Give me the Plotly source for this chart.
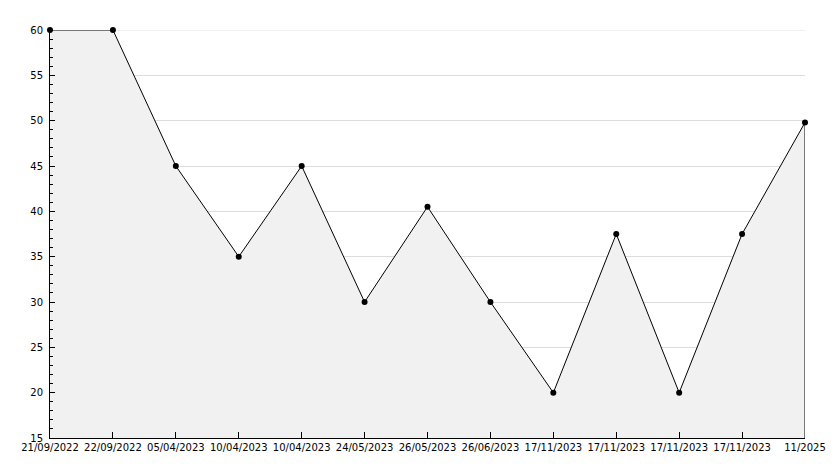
import plotly.graph_objects as go

dates = ["21/09/2022", "22/09/2022", "05/04/2023", "10/04/2023", "10/04/2023",
         "24/05/2023", "26/05/2023", "26/06/2023", "17/11/2023", "17/11/2023",
         "17/11/2023", "17/11/2023", "11/2025"]
values = [60, 60, 45, 35, 45, 30, 40.5, 30, 20, 37.5, 20, 37.5, 49.8]
y_min, y_max = 15, 60
x_idx = list(range(len(dates)))

fig = go.Figure()
fig.add_trace(go.Scatter(
    x=x_idx, y=values, mode="lines+markers", fill="tozeroy",
    fillcolor="#f1f1f1", line=dict(color="black", width=1),
    marker=dict(color="black", size=6, symbol="circle"),
    cliponaxis=False, showlegend=False, hoverinfo="skip",
))
# top gridline
fig.add_shape(type="line", x0=x_idx[0], x1=x_idx[-1], y0=y_max, y1=y_max,
              line=dict(color="#dddddd", width=1), layer="below")
# right edge of the filled area
fig.add_shape(type="line", x0=x_idx[-1], x1=x_idx[-1], y0=y_min, y1=values[-1],
              line=dict(color="black", width=1), layer="above")

fig.update_layout(
    width=834, height=468,
    margin=dict(l=50, r=29, t=30, b=30, autoexpand=False),
    paper_bgcolor="white", plot_bgcolor="white",
    font=dict(family="DejaVu Sans", size=10, color="black"),
    xaxis=dict(
        range=[x_idx[0], x_idx[-1]], tickvals=x_idx, ticktext=dates,
        showgrid=False, zeroline=False, showline=True, linecolor="black", linewidth=1,
        ticks="inside", ticklen=6, tickcolor="black", tickangle=0, automargin=False,
    ),
    yaxis=dict(
        range=[y_min, y_max], dtick=5, tick0=0,
        showgrid=True, gridcolor="#dddddd", gridwidth=1, zeroline=False,
        showline=True, linecolor="black", linewidth=1,
        ticks="inside", ticklen=5, tickcolor="black",
        minor=dict(dtick=1, ticks="inside", ticklen=3, tickcolor="black", showgrid=False),
        ticklabelstandoff=4, automargin=False,
    ),
)
fig.write_html("out.html", config={"displayModeBar": False},
               post_script="document.body.style.margin='0';document.body.style.overflow='hidden';")
